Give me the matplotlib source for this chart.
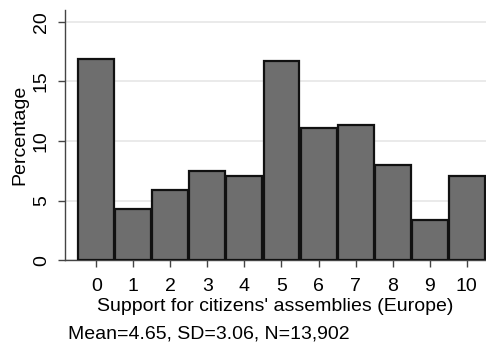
import numpy as np
import matplotlib
matplotlib.use('Agg')
import matplotlib.pyplot as plt

# ── Data ───────────────────────────────────────────────────────────────────────
scores = list(range(11))
percent = [16.9, 4.3, 5.9, 7.45, 7.1, 16.7, 11.1, 11.3, 7.95, 3.4, 7.1]
x_label = "Support for citizens' assemblies (Europe)"
note = "Mean=4.65, SD=3.06, N=13,902"

# ── Style ──────────────────────────────────────────────────────────────────────
plt.rcParams.update({
    'font.family': 'Liberation Sans',
    'font.size': 14,
})

fig = plt.figure(figsize=(4.86, 3.44), dpi=100)
ax = fig.add_axes([0.134, 0.244, 0.866, 0.727])

ax.bar(scores, percent, width=0.97, color='#6e6e6e',
       edgecolor='#111111', linewidth=1.6, zorder=3)

ax.set_xlim(-0.84, 10.52)
ax.set_ylim(0, 21)
ax.set_xticks(scores)
ax.set_yticks([0, 5, 10, 15, 20])
ax.yaxis.grid(True, color='#e6e6e6', linewidth=1.2, zorder=0)
ax.set_axisbelow(True)

for s in ['top', 'right']:
    ax.spines[s].set_visible(False)
for s in ['left', 'bottom']:
    ax.spines[s].set_color('#444444')
    ax.spines[s].set_linewidth(1.0)

ax.tick_params(axis='both', length=5, width=1.0, color='#444444',
               labelsize=14)
ax.tick_params(axis='x', pad=8)
ax.tick_params(axis='y', pad=6)
for lbl in ax.get_yticklabels():
    lbl.set_rotation(90)
    lbl.set_va('center')

ax.set_ylabel('Percentage', fontsize=14, labelpad=3)
ax.set_xlabel(x_label, fontsize=14, labelpad=2)

fig.text(0.14, 0.028, note, ha='left', va='center', fontsize=14)

fig.savefig('out.png', dpi=100, facecolor='white')
